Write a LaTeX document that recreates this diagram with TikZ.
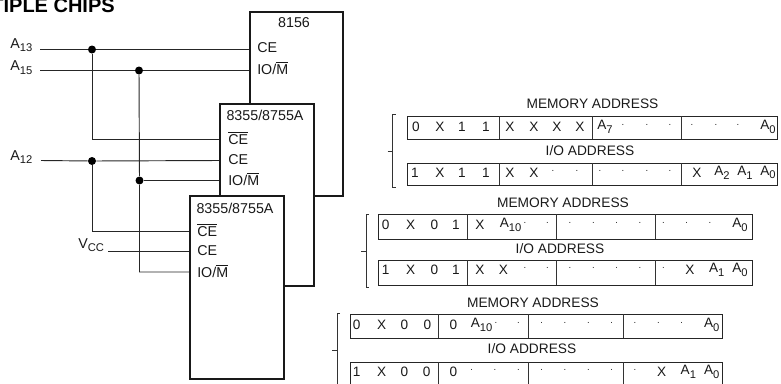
\documentclass[tikz,border=0pt]{standalone}
\usepackage{fontspec}
\setmainfont{Liberation Sans}
\newcommand{\sbs}[1]{\raisebox{-2.8pt}{\fontsize{8.4}{9}\selectfont #1}}
\newcommand{\ovr}[1]{$\overline{\mbox{#1}}$}
\newcommand{\pdot}{\raisebox{0.25ex}{\fontsize{7}{8}\selectfont\textperiodcentered}}
% \rowcells{prefix}{left px}{y px}{zoom-crop list}
\newcommand{\rowcells}[4]{%
  \foreach \u/\t in {#4}{
    \pgfmathsetmacro{\xp}{#2+\u/3}
    \node[celltext] (#1-\u) at (\xp,#3) {\t};
  }}
\newcommand{\regbox}[8]{% name, x0,d1,d2,d3,x1,ytop,ybot
  \node[regframe,minimum width={(#6-#2)*0.75pt},minimum height={(#8-#7)*0.75pt}] (#1) at ({(#2+#6)/2},{(#7+#8)/2}) {};
  \coordinate (#1t1) at (#3,#7); \coordinate (#1b1) at (#3,#8);
  \coordinate (#1t2) at (#4,#7); \coordinate (#1b2) at (#4,#8);
  \coordinate (#1t3) at (#5,#7); \coordinate (#1b3) at (#5,#8);
  \draw[regline] (#1t1) -- (#1b1); \draw[regline] (#1t2) -- (#1b2); \draw[regline] (#1t3) -- (#1b3);
}
\newcommand{\grpbrace}[5]{% name, x, ytop, ybot, ytick
  \coordinate (#1a) at (#2+3,#3); \coordinate (#1b) at (#2,#3); \coordinate (#1c) at (#2,#4); \coordinate (#1d) at (#2+3,#4);
  \coordinate (#1e) at (#2-5,#5); \coordinate (#1f) at (#2,#5);
  \draw[regline] (#1a) -- (#1b) -- (#1c) -- (#1d);
  \draw[regline] (#1e) -- (#1f);
}
\tikzset{
  chip/.style={draw=black!90,fill=white,line width=1.5pt,inner sep=0pt,anchor=north west},
  wire/.style={line width=0.7pt,draw=black!85},
  junction/.style={circle,fill=black,inner sep=0pt,minimum size=6pt},
  label/.style={font=\fontsize{10.7}{12}\selectfont,inner sep=0pt,anchor=base west,text=black!90},
  heading/.style={font=\fontsize{10.7}{12}\selectfont,inner sep=0pt,text=black!90},
  regheading/.style={font=\fontsize{10.3}{12}\selectfont,inner sep=0pt,text=black!90},
  celltext/.style={font=\fontsize{10.2}{12}\selectfont,inner sep=0pt,text=black!90},
  regframe/.style={draw=black!85,line width=0.7pt,inner sep=0pt},
  regline/.style={line width=0.55pt,draw=black!80},
}
\begin{document}
\begin{tikzpicture}[x=0.75pt,y=-0.75pt]
\useasboundingbox (0,0) rectangle (781,383);
\node[anchor=base east,inner sep=0pt,font=\fontsize{15}{16}\selectfont\bfseries] (title) at (115,12) {TIPLE CHIPS};

% chips, back to front
\node[chip,minimum width=69.75pt,minimum height=138pt] (c1) at (249,11) {};
\node[chip,minimum width=70.5pt,minimum height=136.5pt] (c2) at (219,103) {};
\node[chip,minimum width=70.5pt,minimum height=137pt] (c3) at (189,195) {};

\node[heading] (c1n) at (294,23) {8156};
\node[heading] (c2n) at (265,115) {8355/8755A};
\node[heading] (c3n) at (235,208) {8355/8755A};

\node[label] (c1a) at (257,52) {CE};
\node[label] (c1b) at (257,74) {IO/\ovr{M}};
\node[label] (c2a) at (228,144) {\ovr{CE}};
\node[label] (c2b) at (228,164) {CE};
\node[label] (c2c) at (228,185) {IO/\ovr{M}};
\node[label] (c3a) at (197,236) {\ovr{CE}};
\node[label] (c3b) at (197,255) {CE};
\node[label] (c3c) at (197,277) {IO/\ovr{M}};

\node[label] (a13) at (10,48) {A\sbs{13}};
\node[label] (a15) at (10,70.5) {A\sbs{15}};
\node[label] (a12) at (10,160) {A\sbs{12}};
\node[label] (vcc) at (78,248) {V\sbs{CC}};

% wiring
\coordinate (s13) at (40,49.5); \coordinate (e13) at (249,49.5);
\coordinate (s15) at (40,70.5); \coordinate (e15) at (249,70.5);
\coordinate (s12) at (41,160.5); \coordinate (e12) at (219,160.5);
\coordinate (svcc) at (108,251); \coordinate (evcc) at (189,251);
\coordinate (ce2) at (219,139); \coordinate (io2) at (219,180.5);
\coordinate (ce3) at (189,231); \coordinate (io3) at (189,272);
\node[junction] (j13) at (92,49.5) {};
\node[junction] (j15) at (139,70.5) {};
\node[junction] (j12) at (92,161) {};
\node[junction] (j2) at (139.5,180.5) {};
\draw[wire] (s13) -- (j13) -- (e13);
\draw[wire] (s15) -- (j15) -- (e15);
\draw[wire] (s12) -- (j12) -- (e12);
\draw[wire] (svcc) -- (evcc);
\draw[wire] (j13) |- (ce2);
\draw[wire] (j12) |- (ce3);
\draw[wire] (j15) -- (j2) |- (io3);
\draw[wire] (j2) -- (io2);

% group 1
\node[regheading] (m1) at (592.5,104) {MEMORY ADDRESS};
\node[regheading] (i1) at (590,151) {I/O ADDRESS};
\regbox{r1}{407}{499}{592}{681}{777}{116}{139}
\regbox{r2}{407}{499}{592}{681}{777}{163}{185}
\grpbrace{b1}{392.5}{114}{187}{151}
\rowcells{g1}{380}{127}{108/0,180/X,246/1,318/1,390/X,462/X,531/X,600/X,675/{A\sbs{7}},729/\pdot,801/\pdot,870/\pdot,936/\pdot,1008/\pdot,1074/\pdot,1164/{A\sbs{0}}}
\rowcells{g2}{380}{172.5}{105/1,180/X,246/1,318/1,390/X,462/X,519/\pdot,591/\pdot,660/\pdot,729/\pdot,801/\pdot,870/\pdot,951/X,1026/{A\sbs{2}},1095/{A\sbs{1}},1164/{A\sbs{0}}}

% group 2
\node[regheading] (m2) at (563,203) {MEMORY ADDRESS};
\node[regheading] (i2) at (560,249) {I/O ADDRESS};
\regbox{r3}{378}{467}{556}{655}{752}{214}{239}
\regbox{r4}{378}{467}{556}{655}{752}{260}{285}
\grpbrace{b2}{366}{214}{287}{251}
\rowcells{g3}{340}{225}{137/0,212/X,283/0,348/1,420/X,512/{A\sbs{10}},555/\pdot,622/\pdot,690/\pdot,760/\pdot,830/\pdot,900/\pdot,970/\pdot,1040/\pdot,1110/\pdot,1200/{A\sbs{0}}}
\rowcells{g4}{340}{270}{137/1,212/X,283/0,348/1,420/X,490/X,555/\pdot,622/\pdot,690/\pdot,760/\pdot,830/\pdot,900/\pdot,970/\pdot,1050/X,1130/{A\sbs{1}},1200/{A\sbs{0}}}

% group 3
\node[regheading] (m3) at (533,303) {MEMORY ADDRESS};
\node[regheading] (i3) at (532,349) {I/O ADDRESS};
\regbox{r5}{350}{438}{528}{623}{722}{314}{338}
\regbox{r6}{350}{438}{528}{623}{722}{362}{387}
\grpbrace{b3}{337}{313}{392}{350}
\rowcells{g5}{340}{325}{50/0,125/X,193/0,262/0,340/0,425/{A\sbs{10}},468/\pdot,535/\pdot,605/\pdot,675/\pdot,745/\pdot,815/\pdot,885/\pdot,955/\pdot,1025/\pdot,1115/{A\sbs{0}}}
\rowcells{g6}{340}{372}{50/1,125/X,193/0,260/0,340/0,395/\pdot,465/\pdot,535/\pdot,605/\pdot,675/\pdot,745/\pdot,815/\pdot,885/\pdot,965/X,1045/{A\sbs{1}},1115/{A\sbs{0}}}
\end{tikzpicture}
\end{document}
